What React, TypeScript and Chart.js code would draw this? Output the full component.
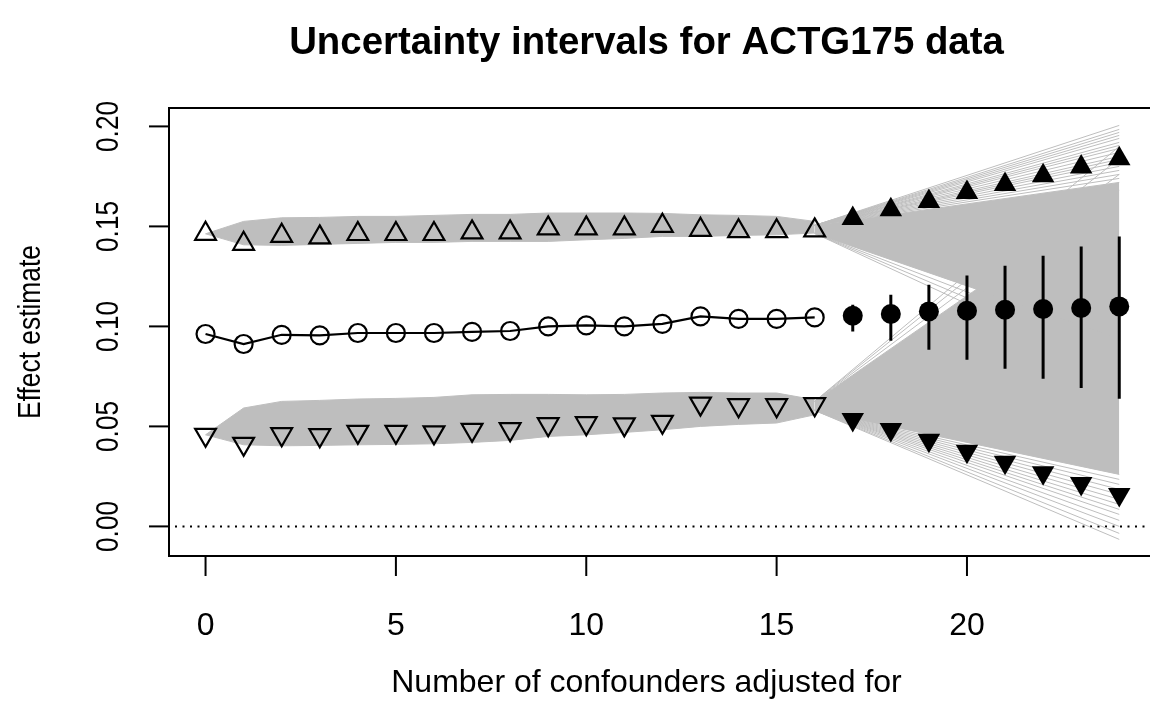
import React, { useEffect, useRef } from 'react';
import { Chart, registerables } from 'chart.js';

Chart.register(...registerables);

// ---------- data ----------
const confounders = [0, 1, 2, 3, 4, 5, 6, 7, 8, 9, 10, 11, 12, 13, 14, 15, 16, 17, 18, 19, 20, 21, 22, 23, 24];
const observedX = confounders.slice(0, 17);
const projectedX = confounders.slice(17);

const upperEst = [0.1463, 0.1413, 0.1453, 0.1445, 0.1462, 0.1462, 0.1462, 0.147, 0.147, 0.149, 0.149, 0.149, 0.1503, 0.1483, 0.1476, 0.1476, 0.148];
const upperProj = [0.154, 0.1583, 0.1625, 0.1669, 0.171, 0.1753, 0.1797, 0.1838];
const lowerEst = [0.0458, 0.0413, 0.0461, 0.0456, 0.0473, 0.0473, 0.047, 0.0483, 0.0486, 0.0511, 0.0516, 0.051, 0.0523, 0.0614, 0.0606, 0.0606, 0.0611];
const lowerProj = [0.0535, 0.0485, 0.0431, 0.0376, 0.0321, 0.0268, 0.0215, 0.016];
const pointEst = [0.0962, 0.0912, 0.0958, 0.0955, 0.0967, 0.0967, 0.0967, 0.0973, 0.0977, 0.1, 0.1005, 0.1, 0.1013, 0.105, 0.1038, 0.1038, 0.1045];
const pointProj = [0.1053, 0.1062, 0.1075, 0.1078, 0.1083, 0.1087, 0.1092, 0.11];
const ciLow = [0.0975, 0.0928, 0.0883, 0.0833, 0.0788, 0.0738, 0.0692, 0.0638];
const ciHigh = [0.1108, 0.1158, 0.1208, 0.1255, 0.1303, 0.1353, 0.14, 0.145];

// grey simulation bands (envelopes of the many grey lines)
const upperBandHi = [0.1463, 0.1525, 0.1543, 0.1545, 0.155, 0.155, 0.1555, 0.156, 0.156, 0.1567, 0.1567, 0.1567, 0.1565, 0.1558, 0.1555, 0.155, 0.1525];
const upperBandLo = [0.1463, 0.1408, 0.1405, 0.141, 0.1415, 0.142, 0.142, 0.1425, 0.1425, 0.1425, 0.1433, 0.144, 0.145, 0.145, 0.1455, 0.1458, 0.1467];
const lowerBandHi = [0.0458, 0.0592, 0.0625, 0.063, 0.0637, 0.064, 0.0645, 0.0658, 0.066, 0.066, 0.0658, 0.066, 0.0667, 0.067, 0.0667, 0.0667, 0.0633];
const lowerBandLo = [0.0458, 0.0408, 0.0403, 0.0405, 0.0408, 0.041, 0.0413, 0.042, 0.043, 0.045, 0.0458, 0.047, 0.0483, 0.05, 0.051, 0.0517, 0.0558];

// fan of grey lines beyond x = 16
const fanX = [16, 24];
const upperFanTop = [0.1505, 0.172];
const upperFanBottom = [0.1465, 0.094];
const lowerFanTop = [0.0625, 0.168];
const lowerFanBottom = [0.058, 0.026];
const upperSparseStart = 0.1505;
const upperSparseEnds = [0.174, 0.176, 0.178, 0.18, 0.182, 0.1835, 0.185, 0.187, 0.189, 0.1905, 0.192, 0.194, 0.1955, 0.197, 0.1985, 0.2005];
const upperLowSparseStart = 0.1465;
const upperLowSparseEnds = [0.088, 0.082, 0.076];
const lowerSparseStart = 0.058;
const lowerSparseEnds = [0.0235, 0.021, 0.0185, 0.016, 0.0135, 0.011, 0.0085, 0.006, 0.003, 0.0, -0.0035, -0.0065];
const lowerHighSparseStart = 0.0625;
const lowerHighSparseEnds = [0.176, 0.184, 0.19];

const xTickValues = [0, 5, 10, 15, 20];
const yTickValues = [0, 0.05, 0.1, 0.15, 0.2];
const yTickLabels = ['0.00', '0.05', '0.10', '0.15', '0.20'];
const zeroLineValue = 0;

const titleText = 'Uncertainty intervals for ACTG175 data';
const xTitle = 'Number of confounders adjusted for';
const yTitle = 'Effect estimate';

// ---------- styling ----------
const GRAY = '#BEBEBE';
const FONT = '"Liberation Sans", Arial, Helvetica, sans-serif';
const CANVAS_W = 1170;
const CANVAS_H = 721;

const pts = (xs: number[], ys: number[]) => xs.map((x, i) => ({ x, y: ys[i] }));

function buildDatasets(): any[] {
  const ds: any[] = [];
  const black = '#000000';
  ds.push({
    data: pts(observedX, upperEst), showLine: false, pointStyle: 'triangle', pointRadius: 12,
    pointBorderWidth: 2.2, pointBorderColor: black, pointBackgroundColor: 'rgba(0,0,0,0)', order: 0,
  });
  ds.push({
    data: pts(projectedX, upperProj), showLine: false, pointStyle: 'triangle', pointRadius: 13,
    pointBorderWidth: 0, pointBorderColor: black, pointBackgroundColor: black, order: 0,
  });
  ds.push({
    data: pts(observedX, lowerEst), showLine: false, pointStyle: 'triangle', pointRotation: 180, pointRadius: 12,
    pointBorderWidth: 2.2, pointBorderColor: black, pointBackgroundColor: 'rgba(0,0,0,0)', order: 0,
  });
  ds.push({
    data: pts(projectedX, lowerProj), showLine: false, pointStyle: 'triangle', pointRotation: 180, pointRadius: 13,
    pointBorderWidth: 0, pointBorderColor: black, pointBackgroundColor: black, order: 0,
  });
  ds.push({
    data: pts(observedX, pointEst), borderColor: black, borderWidth: 2.2, pointStyle: 'circle', pointRadius: 9,
    pointBorderWidth: 2.2, pointBorderColor: black, pointBackgroundColor: 'rgba(0,0,0,0)', order: 0,
  });
  ds.push({
    data: pts(projectedX, pointProj), showLine: false, pointStyle: 'circle', pointRadius: 10,
    pointBorderWidth: 0, pointBackgroundColor: black, order: 0,
  });
  const ciData: any[] = [];
  projectedX.forEach((x, i) => {
    ciData.push({ x, y: ciLow[i] }, { x, y: ciHigh[i] }, { x, y: null });
  });
  ds.push({ data: ciData, borderColor: black, borderWidth: 3, pointRadius: 0, spanGaps: false, order: 0 });

  const sparse = (start: number, ends: number[]) =>
    ends.forEach((e) => ds.push({ data: pts(fanX, [start, e]), borderColor: GRAY, borderWidth: 1, pointRadius: 0, order: 5 }));
  sparse(upperSparseStart, upperSparseEnds);
  sparse(upperLowSparseStart, upperLowSparseEnds);
  sparse(lowerSparseStart, lowerSparseEnds);
  sparse(lowerHighSparseStart, lowerHighSparseEnds);

  const band = (xs: number[], hi: number[], lo: number[]) => {
    ds.push({ data: pts(xs, hi), borderColor: GRAY, borderWidth: 1, pointRadius: 0, order: 6 });
    ds.push({ data: pts(xs, lo), borderColor: GRAY, borderWidth: 1, pointRadius: 0, fill: '-1', backgroundColor: GRAY, order: 6 });
  };
  band(observedX, upperBandHi, upperBandLo);
  band(observedX, lowerBandHi, lowerBandLo);
  band(fanX, upperFanTop, upperFanBottom);
  band(fanX, lowerFanTop, lowerFanBottom);
  return ds;
}

const rDecor = {
  id: 'rDecor',
  beforeDatasetsDraw(chart: any) {
    const { ctx, chartArea: a, scales } = chart;
    const y0 = scales.y.getPixelForValue(zeroLineValue);
    ctx.save();
    ctx.strokeStyle = '#000';
    ctx.lineWidth = 2;
    ctx.setLineDash([2, 5.5]);
    ctx.beginPath();
    ctx.moveTo(a.left + 6, y0);
    ctx.lineTo(a.right, y0);
    ctx.stroke();
    ctx.restore();
  },
  afterDraw(chart: any) {
    const { ctx, chartArea: a, scales } = chart;
    const xs = scales.x;
    const ys = scales.y;
    ctx.save();
    ctx.strokeStyle = '#000';
    ctx.fillStyle = '#000';
    ctx.lineWidth = 2;
    ctx.strokeRect(a.left, a.top, a.right - a.left, a.bottom - a.top);

    const tickLen = 20;
    ctx.font = `32px ${FONT}`;
    ctx.textAlign = 'center';
    ctx.textBaseline = 'alphabetic';
    xTickValues.forEach((v) => {
      const px = xs.getPixelForValue(v);
      ctx.beginPath();
      ctx.moveTo(px, a.bottom);
      ctx.lineTo(px, a.bottom + tickLen);
      ctx.stroke();
      ctx.fillText(String(v), px, 635);
    });
    yTickValues.forEach((v, i) => {
      const py = ys.getPixelForValue(v);
      ctx.beginPath();
      ctx.moveTo(a.left, py);
      ctx.lineTo(a.left - tickLen, py);
      ctx.stroke();
      ctx.save();
      ctx.translate(118, py);
      ctx.rotate(-Math.PI / 2);
      ctx.scale(0.85, 1);
      ctx.font = `31px ${FONT}`;
      ctx.textAlign = 'center';
      ctx.fillText(yTickLabels[i], 0, 0);
      ctx.restore();
    });
    const cx = 646.5;
    ctx.font = `bold 38.4px ${FONT}`;
    ctx.textAlign = 'center';
    ctx.fillText(titleText, cx, 54);
    ctx.font = `32px ${FONT}`;
    ctx.fillText(xTitle, cx, 692);
    ctx.save();
    ctx.translate(40, (a.top + a.bottom) / 2);
    ctx.rotate(-Math.PI / 2);
    ctx.scale(0.85, 1);
    ctx.font = `31px ${FONT}`;
    ctx.textAlign = 'center';
    ctx.fillText(yTitle, 0, 0);
    ctx.restore();
    ctx.restore();
  },
};

export default function App() {
  const ref = useRef<HTMLCanvasElement>(null);
  useEffect(() => {
    const canvas = ref.current;
    if (!canvas) return;
    const chart = new Chart(canvas, {
      type: 'line',
      data: { datasets: buildDatasets() },
      options: {
        animation: false,
        responsive: false,
        devicePixelRatio: 1,
        events: [],
        layout: { padding: { left: 169, top: 108, right: CANVAS_W - 1160.4, bottom: CANVAS_H - 556 } },
        scales: {
          x: { type: 'linear', min: -0.96, max: 24.96, display: false },
          y: { type: 'linear', min: -0.0148, max: 0.2092, display: false },
        },
        plugins: { legend: { display: false }, tooltip: { enabled: false }, title: { display: false } },
        elements: { line: { tension: 0 } },
      } as any,
      plugins: [rDecor],
    });
    return () => chart.destroy();
  }, []);
  return (
    <div style={{ position: 'fixed', left: 0, top: 0, width: 1150, height: 721, overflow: 'hidden', background: '#fff' }}>
      <canvas ref={ref} width={CANVAS_W} height={CANVAS_H} style={{ display: 'block', width: CANVAS_W, height: CANVAS_H }} />
    </div>
  );
}
